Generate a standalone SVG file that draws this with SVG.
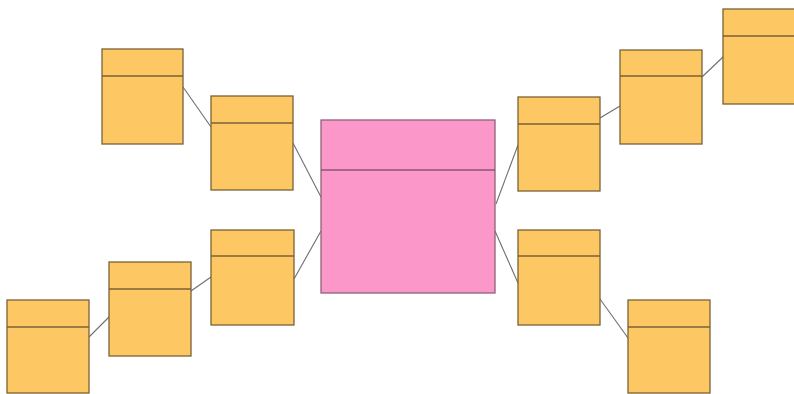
<svg xmlns="http://www.w3.org/2000/svg" width="794" height="394" viewBox="0 0 794 394">
<style>
.o{fill:#FDC864;stroke:#7A6235;stroke-width:1.3}
.p{fill:#FC98C9;stroke:#8C6376;stroke-width:1.3}
.d{stroke:#7A6235;stroke-width:1.6;fill:none}
.dp{stroke:#8C5670;stroke-width:1.6;fill:none}
.c line{stroke:#6E6E6E;stroke-width:1.1}
</style>
<rect width="794" height="394" fill="#ffffff"/>
<g class="c" id="connectors">
<line x1="183" y1="87" x2="211" y2="127"/>
<line x1="293" y1="143" x2="321" y2="197"/>
<line x1="89" y1="337" x2="109" y2="317"/>
<line x1="191" y1="291" x2="211" y2="277"/>
<line x1="294" y1="279" x2="321" y2="231"/>
<line x1="496" y1="204" x2="518" y2="145"/>
<line x1="600" y1="118" x2="620" y2="106"/>
<line x1="702" y1="77" x2="723" y2="57"/>
<line x1="495" y1="231" x2="518" y2="283"/>
<line x1="600" y1="299" x2="628" y2="338"/>
</g>
<g id="center"><rect class="p" x="321" y="120" width="174" height="173"/><line class="dp" x1="321" y1="170" x2="495" y2="170"/></g>
<g id="nA"><rect class="o" x="102" y="49" width="81" height="95"/><line class="d" x1="102" y1="76" x2="183" y2="76"/></g>
<g id="nB"><rect class="o" x="211" y="96" width="82" height="94"/><line class="d" x1="211" y1="123" x2="293" y2="123"/></g>
<g id="nC"><rect class="o" x="7" y="300" width="82" height="93"/><line class="d" x1="7" y1="327" x2="89" y2="327"/></g>
<g id="nD"><rect class="o" x="109" y="262" width="82" height="94"/><line class="d" x1="109" y1="289" x2="191" y2="289"/></g>
<g id="nE"><rect class="o" x="211" y="230" width="83" height="95"/><line class="d" x1="211" y1="256" x2="294" y2="256"/></g>
<g id="nF"><rect class="o" x="518" y="97" width="82" height="94"/><line class="d" x1="518" y1="124" x2="600" y2="124"/></g>
<g id="nG"><rect class="o" x="620" y="50" width="82" height="94"/><line class="d" x1="620" y1="76" x2="702" y2="76"/></g>
<g id="nH"><rect class="o" x="723" y="9" width="82" height="95"/><line class="d" x1="723" y1="36" x2="805" y2="36"/></g>
<g id="nI"><rect class="o" x="518" y="230" width="82" height="95"/><line class="d" x1="518" y1="256" x2="600" y2="256"/></g>
<g id="nJ"><rect class="o" x="628" y="300" width="82" height="93"/><line class="d" x1="628" y1="327" x2="710" y2="327"/></g>
</svg>
